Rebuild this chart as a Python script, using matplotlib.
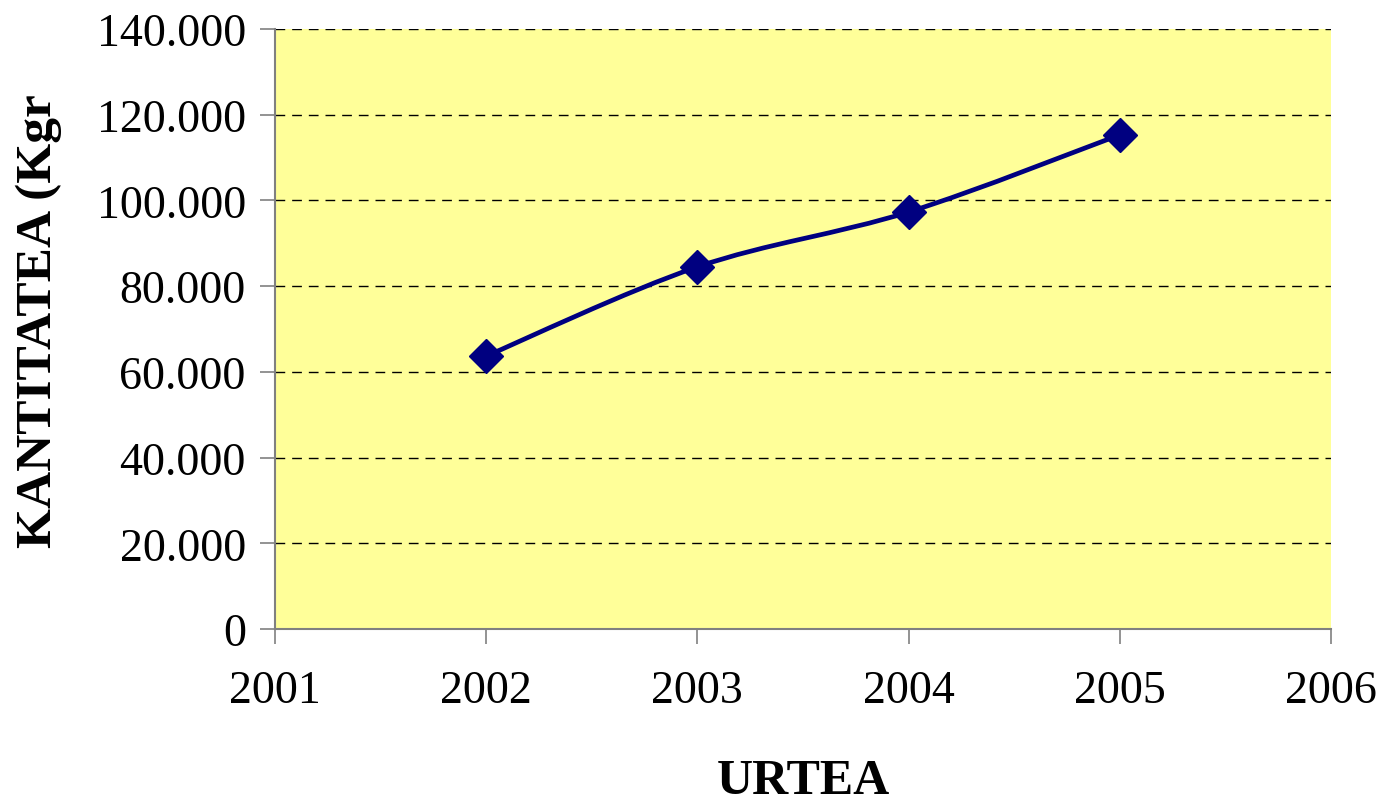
import numpy as np
import matplotlib
matplotlib.use('Agg')
import matplotlib.pyplot as plt
from matplotlib.path import Path
from matplotlib.patches import PathPatch
from matplotlib.ticker import FuncFormatter

years = [2002, 2003, 2004, 2005]
kantitatea = [63700, 84500, 97300, 115300]
x_ticks = [2001, 2002, 2003, 2004, 2005, 2006]
y_ticks = [0, 20000, 40000, 60000, 80000, 100000, 120000, 140000]

plt.rcParams['font.family'] = ['Liberation Serif', 'DejaVu Serif']

fig = plt.figure(figsize=(13.82, 8.03), dpi=100)
ax = fig.add_axes([0.199, 0.2154, 0.764, 0.7472])
ax.set_facecolor('#FFFF99')

# smoothed line like excel (catmull-rom -> bezier)
px = np.array(years, dtype=float)
py = np.array(kantitatea, dtype=float)
verts = [(px[0], py[0])]
codes = [Path.MOVETO]
n = len(px)
for i in range(n - 1):
    p0 = np.array([px[max(i - 1, 0)], py[max(i - 1, 0)]])
    p1 = np.array([px[i], py[i]])
    p2 = np.array([px[i + 1], py[i + 1]])
    p3 = np.array([px[min(i + 2, n - 1)], py[min(i + 2, n - 1)]])
    c1 = p1 + (p2 - p0) / 6
    c2 = p2 - (p3 - p1) / 6
    verts += [tuple(c1), tuple(c2), tuple(p2)]
    codes += [Path.CURVE4] * 3
ax.add_patch(PathPatch(Path(verts, codes), fill=False, edgecolor='#000080', lw=3.4, zorder=3))
ax.plot(years, kantitatea, linestyle='none', marker='D', markersize=17,
        color='#000080', zorder=4, clip_on=False)

ax.set_xlim(2001, 2006)
ax.set_ylim(0, 140000)
ax.set_xticks(x_ticks)
ax.set_yticks(y_ticks)
ax.yaxis.set_major_formatter(FuncFormatter(lambda v, p: f'{int(v):,}'.replace(',', '.')))

ax.yaxis.grid(True, linestyle=(0, (7, 5)), color='black', lw=1)
ax.set_axisbelow(True)
for s in ['top', 'right']:
    ax.spines[s].set_visible(False)
for s in ['left', 'bottom']:
    ax.spines[s].set_color('#808080')
    ax.spines[s].set_linewidth(1.5)
ax.tick_params(axis='both', colors='#808080', width=1.2, length=11, labelsize=33,
               labelcolor='black')
ax.tick_params(axis='x', pad=18)
ax.tick_params(axis='y', pad=10)

ax.set_xlabel('URTEA', fontsize=36, fontweight='bold', labelpad=33)
fig.text(0.028, 0.318, 'KANTITATEA (Kgr', rotation=90, fontsize=37, fontweight='bold',
         ha='center', va='bottom')

fig.savefig('out.png', dpi=100)
